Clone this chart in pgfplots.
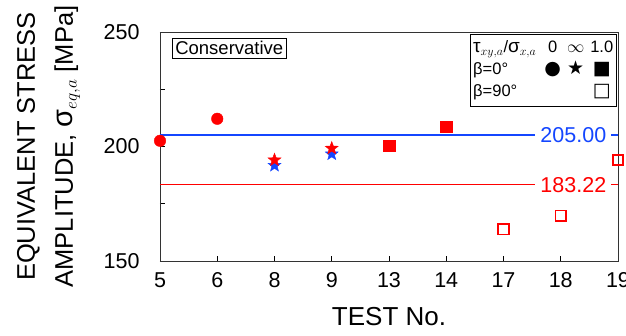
\documentclass[border=0pt]{standalone}
\usepackage{fontspec}
\setmainfont{Liberation Sans}
\newfontfamily\symfont{DejaVu Sans}
\usepackage{pgfplots}
\pgfplotsset{compat=1.18}
\usetikzlibrary{plotmarks}
\definecolor{myred}{RGB}{255,0,0}
\definecolor{myblue}{RGB}{20,70,255}
\pgfdeclareplotmark{fstar}{%
  \pgfpathmoveto{\pgfpointpolar{90}{\pgfplotmarksize}}%
  \pgfpathlineto{\pgfpointpolar{126}{0.42\pgfplotmarksize}}%
  \pgfpathlineto{\pgfpointpolar{162}{\pgfplotmarksize}}%
  \pgfpathlineto{\pgfpointpolar{198}{0.42\pgfplotmarksize}}%
  \pgfpathlineto{\pgfpointpolar{234}{\pgfplotmarksize}}%
  \pgfpathlineto{\pgfpointpolar{270}{0.42\pgfplotmarksize}}%
  \pgfpathlineto{\pgfpointpolar{306}{\pgfplotmarksize}}%
  \pgfpathlineto{\pgfpointpolar{342}{0.42\pgfplotmarksize}}%
  \pgfpathlineto{\pgfpointpolar{18}{\pgfplotmarksize}}%
  \pgfpathlineto{\pgfpointpolar{54}{0.42\pgfplotmarksize}}%
  \pgfpathclose
  \pgfusepathqfillstroke}
\begin{document}
\begin{tikzpicture}
\useasboundingbox (-160pt,-74pt) rectangle (466pt,261pt);
\begin{axis}[
  at={(0,0)}, anchor=south west,
  scale only axis, width=458pt, height=229pt,
  xmin=0, xmax=8, ymin=150, ymax=250,
  xtick={0,...,8}, xticklabels={5,6,8,9,13,14,17,18,19},
  ytick={150,200,250}, minor ytick={175,225},
  tick align=inside, xtick pos=bottom, ytick pos=left,
  major tick length=5pt, minor tick length=5pt,
  tick style={black, line width=0.8pt},
  ticklabel style={font=\fontsize{21.5}{24}\selectfont},
  yticklabel style={xshift=-17pt},
  xticklabel style={yshift=-8pt},
  /pgf/number format/assume math mode=true,
  axis line style={black!80, line width=0.9pt},
  xlabel={TEST No.},
  every axis x label/.style={at={(axis description cs:0.5,0)}, anchor=north, yshift=-43pt, font=\fontsize{26}{30}\selectfont},
  ylabel={EQUIVALENT STRESS\\AMPLITUDE, {\fontsize{29}{30}\selectfont σ}$_{eq,a}$ [MPa]},
  every axis y label/.style={at={(axis description cs:-0.2435,0.5)}, rotate=90, anchor=center, align=center, font=\fontsize{25.5}{38}\selectfont},
  clip=false,
]
\addplot[myblue, line width=1.2pt] coordinates {(0,205) (8,205)};
\addplot[myred, line width=1pt] coordinates {(0,183.22) (8,183.22)};
\node[fill=white, text=myblue, inner xsep=5pt, inner ysep=1pt, font=\fontsize{21.5}{25}\selectfont] at (axis cs:7.22,205) {205.00};
\node[fill=white, text=myred, inner xsep=5pt, inner ysep=1pt, font=\fontsize{21.5}{25}\selectfont] at (axis cs:7.22,183.22) {183.22};

\addplot[only marks, mark=*, mark size=5.8pt, color=myred] coordinates {(0,202.5) (1,212.1)};
\addplot[only marks, mark=fstar, mark size=6.8pt, color=myblue] coordinates {(2,191.7) (3,196.7)};
\addplot[only marks, mark=fstar, mark size=6.8pt, color=myred] coordinates {(2,194.1) (3,199.2)};
\addplot[only marks, mark=square*, mark size=5.8pt, color=myred] coordinates {(4,200.3) (5,208.6)};
\addplot[only marks, mark=square, mark size=5.2pt, color=myred, line width=1.7pt] coordinates {(6,163.8) (7,169.8) (8,194.1)};

\node[draw, line width=0.8pt, anchor=north west, inner sep=3pt, font=\fontsize{18.5}{22}\selectfont] at (rel axis cs:0.026,0.974) {Conservative};

\node[draw, line width=0.8pt, fill=white, anchor=north east, inner sep=3pt, font=\fontsize{16.5}{22}\selectfont] at (rel axis cs:0.997,0.991) {%
\begin{tabular}{@{}l@{\hspace{8pt}}c@{\hspace{6pt}}c@{\hspace{6pt}}c@{}}
{\fontsize{19}{22}\selectfont τ}$_{xy,a}$/{\fontsize{19}{22}\selectfont σ}$_{x,a}$ & 0 & $\infty$ & 1.0\\
β=0° & {\symfont\fontsize{19}{22}\selectfont ●} & {\symfont\fontsize{19}{22}\selectfont ★} & {\symfont\fontsize{19}{22}\selectfont ■}\\
β=90° & & & {\symfont\fontsize{19}{22}\selectfont □}
\end{tabular}};
\end{axis}
\end{tikzpicture}
\end{document}
